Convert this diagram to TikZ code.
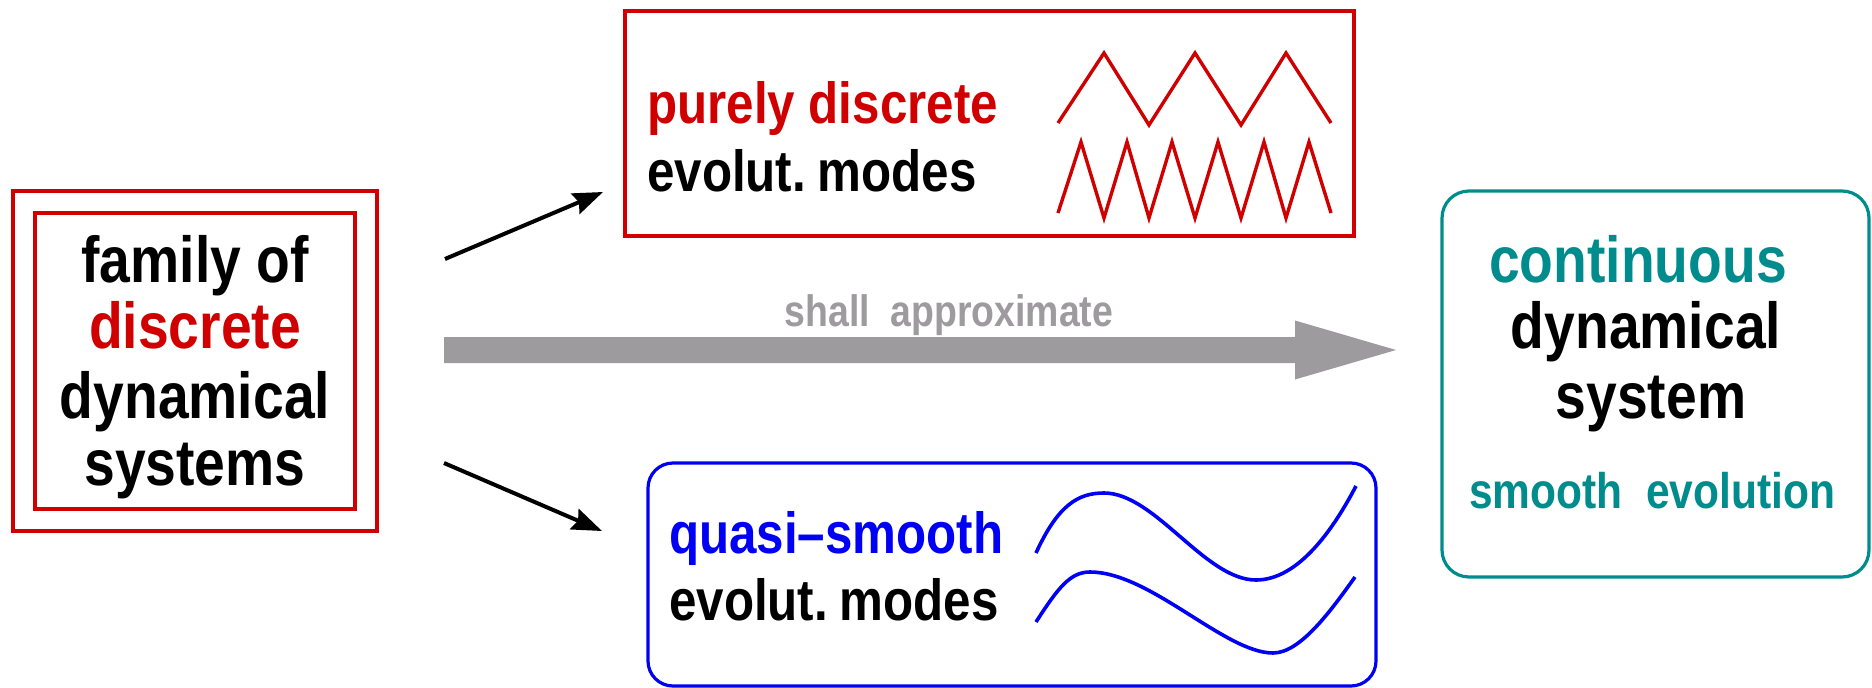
\documentclass[tikz,border=0pt]{standalone}
\usepackage{fontspec}
\newfontfamily\hv{Liberation Sans}[FakeStretch=0.85]
\usetikzlibrary{arrows.meta,calc}
\definecolor{dred}{RGB}{208,0,0}
\definecolor{dblue}{RGB}{0,0,245}
\definecolor{dteal}{RGB}{0,140,140}
\definecolor{dgray}{RGB}{157,155,157}
\tikzset{
  bigtxt/.style={font=\hv\bfseries\fontsize{65}{70}\selectfont, anchor=base, inner sep=0pt},
  midtxt/.style={font=\hv\bfseries\fontsize{58}{62}\selectfont, anchor=base west, inner sep=0pt},
  smalltxt/.style={font=\hv\bfseries\fontsize{50}{54}\selectfont, anchor=base, inner sep=0pt},
  graytxt/.style={font=\hv\bfseries\fontsize{44}{48}\selectfont, anchor=base, inner sep=0pt, text=dgray},
  boxstyle/.style={draw, line width=3.2pt, inner sep=0pt, outer sep=0pt},
  blackarrow/.style={line width=4pt, -{Stealth[length=30pt,width=22pt,inset=4pt]}},
  wave/.style={line width=3.4pt},
}
\begin{document}
\begin{tikzpicture}[x=1pt,y=-1pt]
\useasboundingbox (0,0) rectangle (1872,688);

% left boxes
\node[boxstyle, draw=dred, minimum width=364pt, minimum height=340pt] (outer) at (195,361) {};
\node[boxstyle, draw=dred, minimum width=320pt, minimum height=296pt] (inner) at (195,361) {};
\node[bigtxt] (l1) at (195,282) {family of};
\node[bigtxt, text=dred] (l2) at (195,348) {discrete};
\node[bigtxt] (l3) at (195,418) {dynamical};
\node[bigtxt] (l4) at (195,485) {systems};

% top box
\node[boxstyle, draw=dred, minimum width=729pt, minimum height=225pt] (top) at (989.5,123.5) {};
\node[midtxt, text=dred] (t1) at (647,123) {purely discrete};
\node[midtxt] (t2) at (647,191) {evolut.\hspace{0.2em}modes};
\draw[wave, dred] (1058,123) -- (1104,53) -- (1149,125) -- (1195,53) -- (1241,125) -- (1286,53) -- (1331,123);
\draw[wave, dred] (1058,213) -- (1081,142) -- (1104,218) -- (1127,142) -- (1149,218) -- (1172,142) -- (1195,218) -- (1218,142) -- (1241,218) -- (1264,142) -- (1286,218) -- (1309,142) -- (1331,213);

% bottom box
\node[boxstyle, draw=dblue, rounded corners=25pt, minimum width=728pt, minimum height=223pt] (bot) at (1012,574.5) {};
\node[midtxt, text=dblue] (b1) at (669,553) {quasi–smooth};
\node[midtxt] (b2) at (669,620) {evolut.\hspace{0.2em}modes};
\draw[wave, dblue, line width=3.6pt] (1036,553) .. controls (1058,505) and (1078,493) .. (1104,493)
  .. controls (1155,493) and (1205,580) .. (1256,580)
  .. controls (1298,580) and (1333,530) .. (1356,486);
\draw[wave, dblue, line width=3.6pt] (1036,622) .. controls (1058,588) and (1070,572) .. (1090,572)
  .. controls (1150,572) and (1225,653) .. (1273,653)
  .. controls (1300,653) and (1330,612) .. (1355,577);

% right box
\node[boxstyle, draw=dteal, rounded corners=27pt, minimum width=427pt, minimum height=386pt] (right) at (1655.5,384) {};
\node[bigtxt, text=dteal] (r1) at (1638,282) {continuous};
\node[bigtxt] (r2) at (1646,348) {dynamical};
\node[bigtxt] (r3) at (1651,418) {system};
\node[smalltxt, text=dteal] (r4) at (1652,508) {smooth\ \ evolution};

% black arrows
\coordinate (ua) at (445,259);
\coordinate (ub) at (603,192);
\coordinate (da) at (444,463);
\coordinate (db) at (602,531);
\draw[blackarrow] (ua) -- (ub);
\draw[blackarrow] (da) -- (db);

% gray arrow
\coordinate (gs) at (444,350);
\coordinate (gt) at (1396,350);
\fill[dgray] ($(gs)+(0,-13)$) -- ($(gt)+(-101,-13)$) -- ($(gt)+(-101,-29.5)$) -- (gt)
  -- ($(gt)+(-101,29.5)$) -- ($(gt)+(-101,13)$) -- ($(gs)+(0,13)$) -- cycle;
\node[graytxt] (ga) at (949,326) {shall\ \ approximate};
\end{tikzpicture}
\end{document}
